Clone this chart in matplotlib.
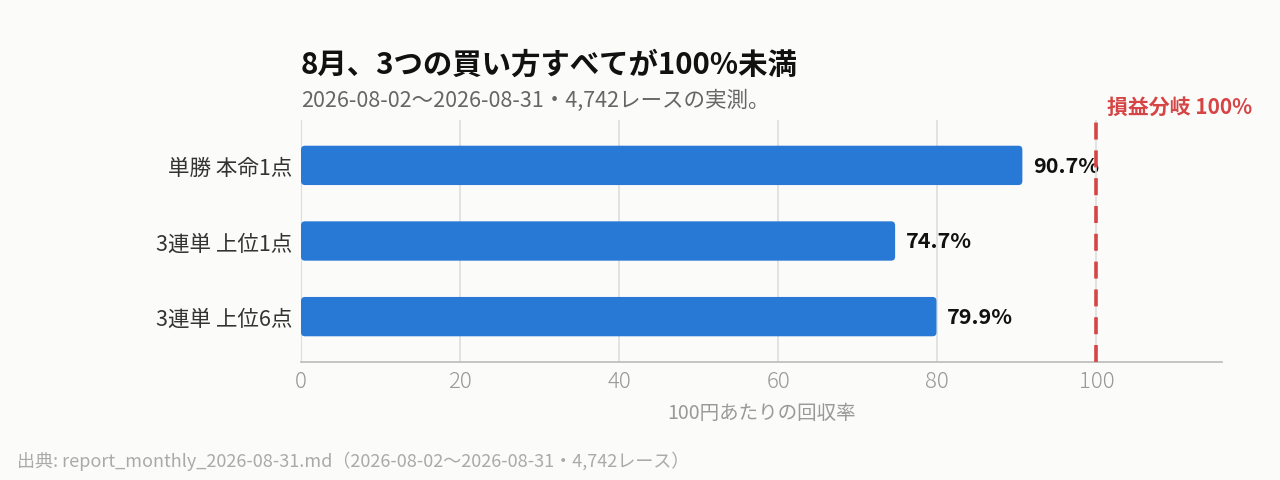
import matplotlib.pyplot as plt
from matplotlib.patches import FancyBboxPatch

plt.rcParams['font.family'] = ['Noto Sans CJK JP', 'DejaVu Sans']

labels = ["単勝 本命1点", "3連単 上位1点", "3連単 上位6点"]
values = [90.7, 74.7, 79.9]
value_texts = ["90.7%", "74.7%", "79.9%"]
breakeven = 100
xticks = [0, 20, 40, 60, 80, 100]

title = "8月、3つの買い方すべてが100%未満"
subtitle = "2026-08-02〜2026-08-31・4,742レースの実測。"
xlabel = "100円あたりの回収率"
breakeven_label = "損益分岐 100%"
source = "出典: report_monthly_2026-08-31.md（2026-08-02〜2026-08-31・4,742レース）"

bg = '#fbfbf9'
bar_color = '#2878d6'
red = '#d64545'

fig = plt.figure(figsize=(12.8, 4.81), dpi=100, facecolor=bg)
ax = fig.add_axes([301 / 1280, 1 - 363 / 481, (1222 - 301) / 1280, (363 - 121) / 481])
ax.set_facecolor(bg)
ax.set_xlim(0, 115.8)
ax.set_ylim(2.6, -0.6)

ypos = list(range(len(labels)))
bars = ax.barh(ypos, values, height=0.52, color=bar_color)
# swap the plain bars for ones with slightly rounded corners
px_x = ax.bbox.width / 115.8
px_y = ax.bbox.height / 3.2
for b in bars:
    b.set_visible(False)
    ax.add_patch(FancyBboxPatch((b.get_x(), b.get_y()), b.get_width(), b.get_height(),
                                boxstyle="round,pad=0,rounding_size=%f" % (4 / px_x),
                                mutation_aspect=px_x / px_y,
                                facecolor=bar_color, edgecolor='none', zorder=3))

for y, v, t in zip(ypos, values, value_texts):
    ax.annotate(t, (v, y), xytext=(7.5, 0), textcoords='offset points',
                va='center', ha='left', fontsize=15.5, fontweight='bold',
                color='#111111', zorder=1.5)

for x in xticks[1:]:
    ax.axvline(x, color='#dddddd', linewidth=1.2, zorder=2)
ax.axvline(breakeven, color=red, linewidth=2.6, linestyle=(0, (4.7, 3.0)), zorder=5)
ax.annotate(breakeven_label, (breakeven, 1), xycoords=('data', 'axes fraction'),
            xytext=(8, 2), textcoords='offset points', ha='left', va='bottom',
            fontsize=15, fontweight='bold', color=red)

ax.set_xticks(xticks)
ax.set_xticklabels([str(x) for x in xticks])
ax.set_yticks(ypos)
ax.set_yticklabels(labels)
ax.tick_params(axis='x', length=0, labelsize=16, labelcolor='#999999', pad=6)
ax.tick_params(axis='y', length=0, labelsize=15.5, labelcolor='#333333', pad=6)
for lbl in ax.get_xticklabels():
    lbl.set_fontweight('light')
for s in ['top', 'right']:
    ax.spines[s].set_visible(False)
ax.spines['left'].set_color('#dddddd')
ax.spines['bottom'].set_color('#bbbbbb')
ax.spines['bottom'].set_linewidth(1.2)
ax.set_xlabel(xlabel, fontsize=14, color='#999999', labelpad=7)

fig.text(301 / 1280, 1 - 65 / 481, title, fontsize=21.2, fontweight='bold', color='#111111',
         ha='left', va='center')
fig.text(301 / 1280, 1 - 101 / 481, subtitle, fontsize=15.5, color='#666666',
         ha='left', va='center')
fig.text(17 / 1280, 1 - 461 / 481, source, fontsize=13, color='#aaaaaa',
         ha='left', va='center')

fig.savefig('out.png', dpi=100, facecolor=bg)
